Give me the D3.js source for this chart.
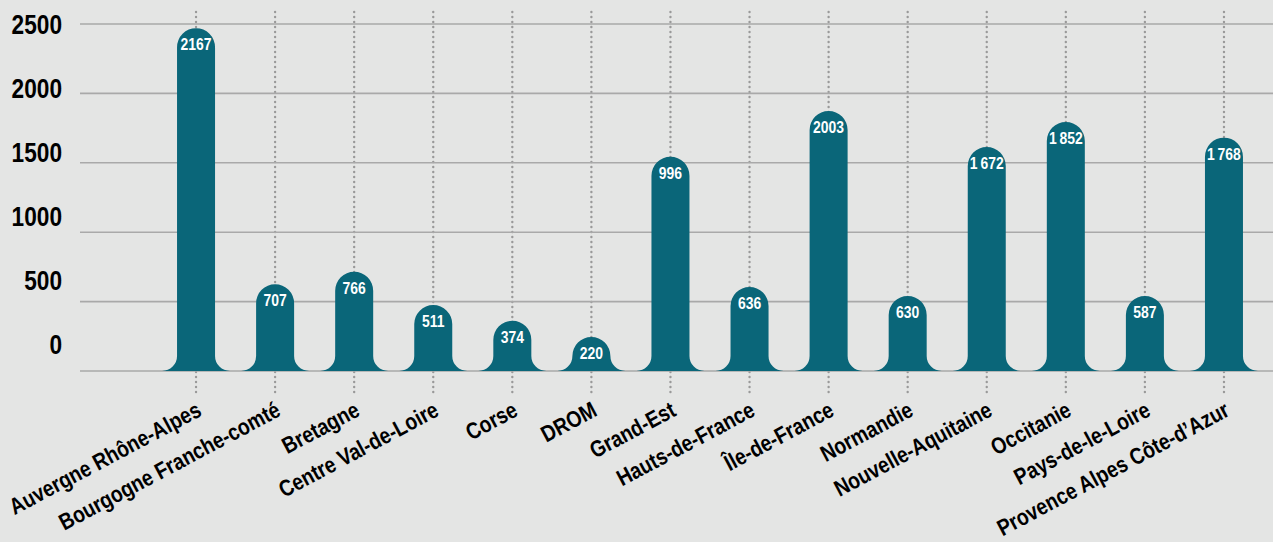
<!DOCTYPE html>
<html>
<head>
<meta charset="utf-8">
<style>
  html, body { margin: 0; padding: 0; background: #e4e5e4; }
  svg { display: block; }
  text { font-family: "Liberation Sans", Arial, sans-serif; font-weight: bold; }
  .grid line { stroke: #a9a9a9; stroke-width: 1.6px; }
  .guide { stroke: #999; stroke-width: 2.4px; stroke-linecap: round; stroke-dasharray: 0 5; }
  .bar { fill: #0a6679; }
  .val { fill: #fff; font-size: 17px; text-anchor: middle; }
  .ytick { fill: #000; font-size: 27px; text-anchor: end; }
  .xlab { fill: #000; font-size: 23px; text-anchor: end; }
</style>
</head>
<body>
<script src="https://cdn.jsdelivr.net/npm/d3@7"></script>
<script>
  // regions, shown value, and the level each bar reaches on the axis
  var regions = ["Auvergne Rhône-Alpes", "Bourgogne Franche-comté", "Bretagne", "Centre Val-de-Loire",
    "Corse", "DROM", "Grand-Est", "Hauts-de-France", "Île-de-France", "Normandie",
    "Nouvelle-Aquitaine", "Occitanie", "Pays-de-le-Loire", "Provence Alpes Côte-d’Azur"];
  var values = [2167, 707, 766, 511, 374, 220, 996, 636, 2003, 630, 1672, 1852, 587, 1768];
  var valueLabels = ["2167", "707", "766", "511", "374", "220", "996", "636", "2003", "630",
    "1\u2009672", "1\u2009852", "587", "1\u2009768"];
  var barLevel = [2470, 625, 715, 475, 362, 243, 1544, 605, 1873, 540, 1614, 1794, 540, 1681];
  var yTicks = [0, 500, 1000, 1500, 2000, 2500];

  var W = 1273, H = 542;
  var svg = d3.select("body").append("svg").attr("width", W).attr("height", H);

  var x = d3.scaleBand().domain(regions).range([156.5, 1263.5]);
  var y = d3.scaleLinear().domain([0, 2500]).range([371, 24]);
  // tick labels sit on their own, slightly tighter spacing
  var yLab = d3.scaleLinear().domain([0, 2500]).range([354, 34]);

  var cx = function(d) { return x(d) + x.bandwidth() / 2; };
  var narrow = " scale(0.84,1)";   // condensed look

  // dotted guides
  svg.append("g").selectAll("line").data(regions).enter().append("line")
    .attr("class", "guide")
    .attr("x1", cx).attr("x2", cx)
    .attr("y1", 12).attr("y2", 395);

  // grid
  svg.append("g").attr("class", "grid").selectAll("line").data(yTicks).enter().append("line")
    .attr("x1", 80).attr("x2", W)
    .attr("y1", function(d) { return y(d); })
    .attr("y2", function(d) { return y(d); });

  svg.append("g").selectAll("text").data(yTicks).enter().append("text")
    .attr("class", "ytick")
    .attr("transform", function(d) { return "translate(62," + yLab(d) + ")" + narrow; })
    .text(function(d) { return d; });

  var hw = 19, fr = 15;
  function barPath(d, i) {
    var c = cx(d), by = y(0), ty = y(barLevel[i]);
    var capY = ty + hw, flY = by - fr;
    return "M" + (c - hw - fr) + "," + by +
      "A" + fr + "," + fr + " 0 0 0 " + (c - hw) + "," + flY +
      "L" + (c - hw) + "," + Math.min(capY, flY) +
      "A" + hw + "," + hw + " 0 0 1 " + (c + hw) + "," + Math.min(capY, flY) +
      "L" + (c + hw) + "," + flY +
      "A" + fr + "," + fr + " 0 0 0 " + (c + hw + fr) + "," + by + "Z";
  }

  svg.append("g").selectAll("path").data(regions).enter().append("path")
    .attr("class", "bar")
    .attr("d", barPath);

  svg.append("g").selectAll("text").data(regions).enter().append("text")
    .attr("class", "val")
    .attr("transform", function(d, i) {
      return "translate(" + cx(d) + "," + (y(barLevel[i]) + 22) + ") scale(0.82,1)";
    })
    .text(function(d, i) { return valueLabels[i]; });

  svg.append("g").selectAll("text").data(regions).enter().append("text")
    .attr("class", "xlab")
    .attr("transform", function(d) { return "translate(" + (cx(d) + 7) + ",415) rotate(-28)" + narrow; })
    .text(function(d) { return d; });
</script>
</body>
</html>
